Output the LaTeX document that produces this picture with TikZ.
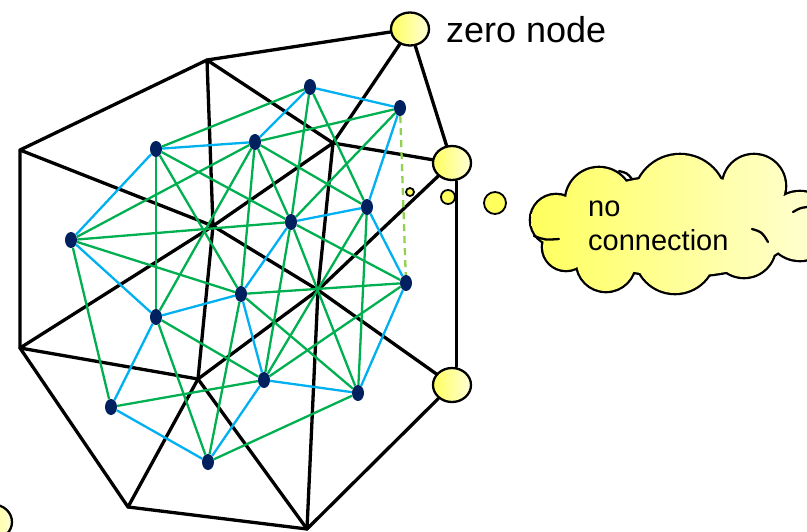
\documentclass[tikz,border=0pt]{standalone}
\usepackage{fontspec}
\setmainfont{Liberation Sans}
\usetikzlibrary{shapes.geometric}
\definecolor{meshgreen}{HTML}{00B050}
\definecolor{meshblue}{HTML}{00B0F0}
\definecolor{dashgreen}{HTML}{92D050}
\definecolor{sensorblue}{HTML}{002060}
\definecolor{yelA}{HTML}{FFFF5E}
\definecolor{yelB}{HTML}{FFFFD8}
% puffs that together make up the cloud callout
\newcommand\cloudpuffs{%
  (556,220) circle[radius=25]
  (566,247) circle[radius=23]
  (606,262) circle[radius=29]
  (675,253) circle[radius=40]
  (744,246) circle[radius=31]
  (800,226) circle[radius=34]
  (754,186) circle[radius=31]
  (680,201) circle[radius=46]
  (599,201) circle[radius=33]
  (680,226) ellipse[x radius=115, y radius=50]}
\begin{document}
\begin{tikzpicture}[x=1pt,y=-1pt,
  hull/.style={line width=3.3pt, black, line cap=round, line join=round},
  gedge/.style={line width=2.3pt, meshgreen},
  bedge/.style={line width=2.3pt, meshblue},
  sensor/.style={ellipse, fill=sensorblue, minimum width=12pt, minimum height=16pt, inner sep=0pt},
  gate/.style={ellipse, draw=black, line width=2.3pt, left color=yelA, right color=yelB,
               minimum width=38pt, minimum height=33pt, inner sep=0pt},
  bubble/.style={circle, draw=black, line width=1.8pt, fill=yelA, inner sep=0pt},
  label/.style={font=\fontsize{29}{34}\selectfont, inner sep=0pt},
  puffline/.style={draw=black, line width=2.3pt, line cap=round}]
\useasboundingbox (0,0) rectangle (807,531);
\clip (0,0) rectangle (807,531);

% cloud callout: outline first, then the shaded body over it
\path[draw=black, line width=4.6pt] \cloudpuffs;
\path[left color=yelA, right color=yelB] \cloudpuffs;
% short inner strokes of the puffs
\path[puffline] (534,236) .. controls (545,240) .. (559,239);
\path[puffline] (619,171) .. controls (627,173) .. (632,179);
\path[puffline] (752,229) .. controls (762,232) .. (768,242);
\path[puffline] (793,212) .. controls (800,208) .. (807,207);
\node[label, anchor=base west] (no) at (588,216) {no};
\node[label, anchor=base west] (conn) at (588,250) {connection};

% gateway nodes
\node[gate] (Z) at (410,29) {};
\node[gate, minimum height=34pt] (Y1) at (452,163) {};
\node[gate, minimum height=34pt] (Y2) at (452,385) {};
\node[gate, minimum height=35pt] (Y3) at (-7,522) {};
\node[font=\fontsize{36}{40}\selectfont, inner sep=0pt, anchor=base west] (zlabel) at (446,42) {zero node};

% small bubbles
\node[bubble, minimum size=8pt] (b1) at (410,192) {};
\node[bubble, minimum size=14pt] (b2) at (448,197) {};
\node[bubble, minimum size=22pt] (b3) at (495,203) {};

% mesh vertices
\coordinate (A) at (20,150);
\coordinate (B) at (207,60);
\coordinate (C) at (20,348);
\coordinate (D) at (128,507);
\coordinate (E) at (307,529);
\coordinate (I1) at (333,143);
\coordinate (I2) at (213,226);
\coordinate (I3) at (318,290);
\coordinate (I4) at (198,379);

% black mesh
\draw[hull] (Z) -- (B) -- (A) -- (C) -- (D) -- (E) -- (Y2);
\draw[hull] (Z) -- (Y1);
\draw[hull] ([xshift=4.5pt]Y1.south) -- ([xshift=4.5pt]Y2.north);
\draw[hull] (A) -- (I2) -- (I3) -- (Y2);
\draw[hull] (B) -- (I2) -- (I4);
\draw[hull] (C) -- (I2) -- (I1) -- (Z);
\draw[hull] (B) -- (I1) -- (Y1);
\draw[hull] (I1) -- (I3) -- (Y1);
\draw[hull] (I3) -- (E);
\draw[hull] (I3) -- (I4);
\draw[hull] (C) -- (I4) -- (D);
\draw[hull] (I4) -- (E);

% sensor nodes
\node[sensor] (N1) at (310,87) {};
\node[sensor] (N2) at (400,108) {};
\node[sensor] (N3) at (156,149) {};
\node[sensor] (N4) at (255,142) {};
\node[sensor] (N5) at (71,240) {};
\node[sensor] (N6) at (291,222) {};
\node[sensor] (N7) at (367,207) {};
\node[sensor] (N8) at (406,283) {};
\node[sensor] (N9) at (241,294) {};
\node[sensor] (N10) at (156,317) {};
\node[sensor] (N11) at (264,380) {};
\node[sensor] (N12) at (358,393) {};
\node[sensor] (N13) at (111,407) {};
\node[sensor] (N14) at (208,462) {};

% green links
\foreach \a/\b in {N1/N3, N1/N6, N1/N7, N2/N4, N2/N6, N3/N10, N3/N6, N3/N9,
  N4/N5, N4/N6, N4/N7, N4/N9, N4/N10, N5/N6, N5/N9, N5/N13,
  N6/N8, N6/N11, N6/N12, N7/N11, N7/N12, N8/N9, N8/N11, N9/N12, N9/N14,
  N10/N11, N10/N14, N11/N13, N12/N14}
  \draw[gedge] (\a) -- (\b);

% blue links
\foreach \a/\b in {N1/N2, N1/N4, N3/N4, N3/N5, N2/N7, N6/N7, N7/N8, N5/N10,
  N10/N9, N9/N6, N9/N11, N11/N12, N12/N8, N10/N13, N13/N14, N14/N11}
  \draw[bedge] (\a) -- (\b);

% dashed link
\draw[dashgreen, line width=2.3pt, dash pattern=on 7pt off 5pt] (N2) -- (N8);
\end{tikzpicture}
\end{document}
